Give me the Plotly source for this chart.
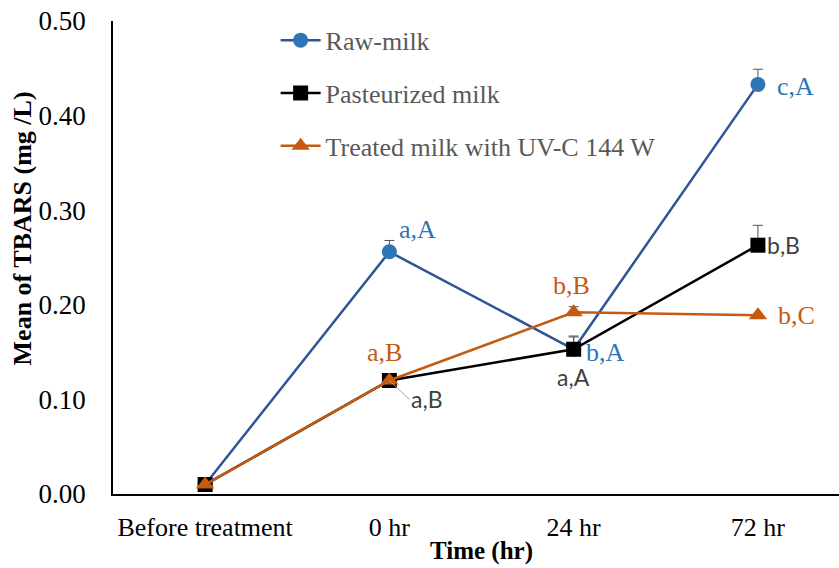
import plotly.graph_objects as go

categories = ["Before treatment", "0 hr", "24 hr", "72 hr"]
raw_milk = [0.010, 0.256, 0.153, 0.433]
raw_err = [0.0, 0.012, 0.013, 0.016]
past_milk = [0.010, 0.120, 0.153, 0.263]
past_err = [0.0, 0.004, 0.014, 0.021]
uv_milk = [0.010, 0.120, 0.192, 0.189]
uv_err = [0.0, 0.0, 0.006, 0.0]

raw_labels = ["", "a,A", "b,A", "c,A"]
past_labels = ["", "a,B", "a,A", "b,B"]
uv_labels = ["", "a,B", "b,B", "b,C"]

BLUE_LINE = "#2F5597"
BLUE_MARK = "#2E75B6"
ORANGE = "#C55A11"
SERIF = "Liberation Serif, Times New Roman, serif"
SANS = "Lato, Open Sans, sans-serif"

x_idx = list(range(len(categories)))

fig = go.Figure()

def add_series(name, y, err, line_color, marker_color, symbol, size, group):
    fig.add_trace(go.Scatter(
        x=x_idx, y=y, name=name, mode="lines+markers",
        legendgroup=group,
        line=dict(color=line_color, width=2.5),
        marker=dict(color=marker_color, symbol=symbol, size=size,
                    line=dict(width=0)),
        error_y=dict(type="data", array=err, arrayminus=[0] * len(err),
                     symmetric=False, color="#555555", thickness=1, width=5),
    ))

add_series("Raw-milk", raw_milk, raw_err, BLUE_LINE, BLUE_MARK, "circle", 15, "g1")
add_series("Pasteurized milk", past_milk, past_err, "#000000", "#000000", "square", 15, "g2")
add_series("Treated milk with UV-C 144 W", uv_milk, uv_err, ORANGE, ORANGE, "triangle-up", 16, "g3")

ann = []
raw_shift = [None, (28, 22), (32, -3), (38, -2)]
uv_shift = [None, (-5, 28), (-2, 27), (39, 0)]
past_shift = [None, None, (0, -28), (26, 0)]
for i in x_idx:
    if raw_labels[i]:
        dx, dy = raw_shift[i]
        ann.append(dict(x=i, y=raw_milk[i], text=raw_labels[i], showarrow=False,
                        xshift=dx, yshift=dy, font=dict(family=SERIF, size=26, color=BLUE_MARK)))
    if uv_labels[i]:
        dx, dy = uv_shift[i]
        ann.append(dict(x=i, y=uv_milk[i], text=uv_labels[i], showarrow=False,
                        xshift=dx, yshift=dy, font=dict(family=SERIF, size=26, color=ORANGE)))
    if past_labels[i] and past_shift[i] is not None:
        dx, dy = past_shift[i]
        ann.append(dict(x=i, y=past_milk[i], text=past_labels[i], showarrow=False,
                        xshift=dx, yshift=dy, font=dict(family=SANS, size=23, color="#404040")))
# leader-line label for pasteurized at 0 hr
ann.append(dict(x=1, y=past_milk[1], text=past_labels[1], showarrow=True,
                arrowhead=0, arrowwidth=1, arrowcolor="#A6A6A6",
                ax=20, ay=19, xanchor="left", standoff=0,
                font=dict(family=SANS, size=23, color="#404040")))
# axis titles
ann.append(dict(xref="paper", yref="paper", x=-0.125, y=0.562, textangle=-90,
                text="<b>Mean of TBARS (mg /L)</b>", showarrow=False,
                xanchor="center", yanchor="middle",
                font=dict(family=SERIF, size=26, color="#000000")))
ann.append(dict(xref="paper", yref="paper", x=0.507, y=-0.121,
                text="<b>Time (hr)</b>", showarrow=False,
                xanchor="center", yanchor="middle",
                font=dict(family=SERIF, size=25, color="#000000")))

fig.update_layout(
    width=839, height=568,
    margin=dict(l=113, r=0, t=21, b=74),
    plot_bgcolor="white", paper_bgcolor="white",
    showlegend=True,
    legend=dict(x=0.224, y=1.009, xanchor="left", yanchor="top",
                bgcolor="rgba(0,0,0,0)", tracegroupgap=16,
                font=dict(family=SERIF, size=26, color="#595959"),
                itemwidth=40),
    annotations=ann,
    xaxis=dict(
        tickmode="array", tickvals=x_idx, ticktext=categories,
        range=[-0.5, 3.44], showgrid=False, zeroline=False,
        showline=True, linecolor="#000000", linewidth=1.5,
        ticks="", tickfont=dict(family=SERIF, size=26, color="#000000"),
        ticklabelstandoff=9,
    ),
    yaxis=dict(
        range=[0, 0.5], dtick=0.1, tickformat=".2f",
        showgrid=False, zeroline=False,
        showline=True, linecolor="#000000", linewidth=1.5,
        ticks="", tickfont=dict(family=SERIF, size=27, color="#000000"),
        ticklabelstandoff=20,
    ),
)

fig.write_html("out.html")
